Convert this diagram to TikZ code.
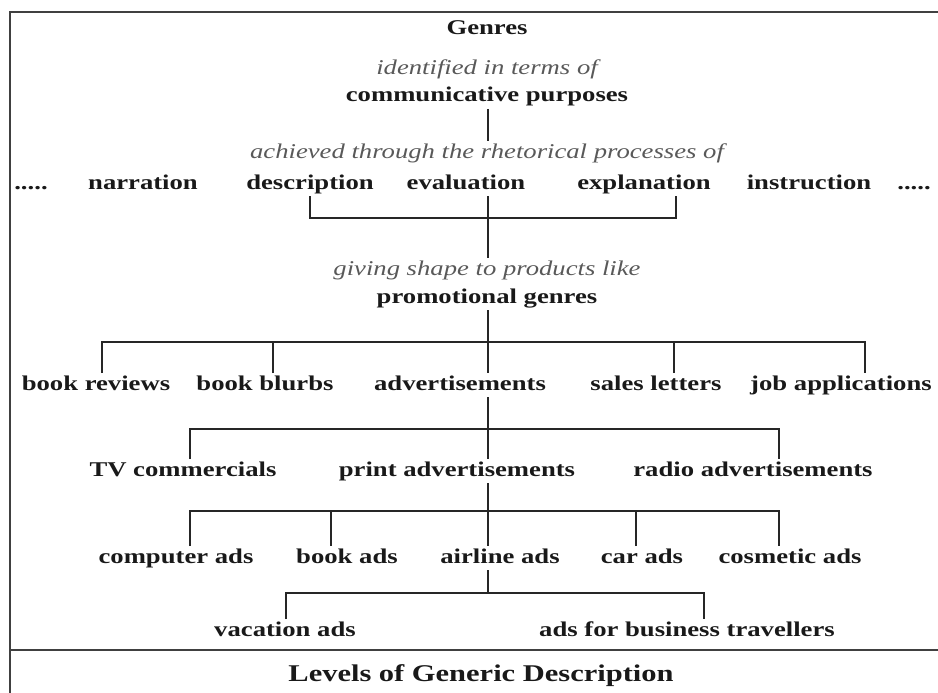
\documentclass[tikz,border=0pt]{standalone}
\usepackage{fontspec}
\setmainfont[FakeStretch=1.27]{Liberation Serif}

\tikzset{
  lvl/.style={font=\bfseries\fontsize{21}{24}\selectfont, text=black!90,
    inner sep=0pt, outer ysep=3pt, text height=14pt, text depth=4pt},
  via/.style={lvl, font=\itshape\fontsize{21}{24}\selectfont, text=black!65},
  link/.style={line width=1.8pt, draw=black!85},
  frame/.style={line width=2.6pt, draw=black!75},
}

\begin{document}
\begin{tikzpicture}[x=1pt,y=1pt]
  \useasboundingbox (0,0) rectangle (938,-693);
  \coordinate (axis) at (488,0);

  % Frame and caption strip
  \draw[frame] (10,-693) -- (10,-12) -- (938,-12);
  \draw[frame] (10,-650) -- (938,-650);
  \node[lvl, font=\bfseries\fontsize{24}{28}\selectfont] (levels) at (481,-676) {Levels of Generic Description};

  % Top of the hierarchy
  \node[lvl] (genres) at (487,-30) {Genres};
  \node[via] (ident) at (487,-70) {identified in terms of};
  \node[lvl] (comm) at (487,-97) {communicative purposes};
  \node[via] (achv) at (487,-153) {achieved through the rhetorical processes of};

  % Rhetorical processes
  \node[lvl] (dotsl) at (31,-184) {.....};
  \node[lvl] (narr) at (143,-184) {narration};
  \node[lvl] (desc) at (310,-184) {description};
  \node[lvl] (eval) at (466,-184) {evaluation};
  \node[lvl] (expl) at (644,-184) {explanation};
  \node[lvl] (instr) at (809,-184) {instruction};
  \node[lvl] (dotsr) at (914,-184) {.....};

  \node[via] (giving) at (487,-270) {giving shape to products like};
  \node[lvl] (promo) at (487,-298) {promotional genres};

  % Promotional genres
  \node[lvl] (brev) at (96,-385) {book reviews};
  \node[lvl] (blurb) at (265,-385) {book blurbs};
  \node[lvl] (adv) at (460,-385) {advertisements};
  \node[lvl] (sales) at (656,-385) {sales letters};
  \node[lvl] (jobs) at (841,-385) {job applications};

  % Advertisements
  \node[lvl] (tv) at (183,-471) {TV commercials};
  \node[lvl] (print) at (457,-471) {print advertisements};
  \node[lvl] (radio) at (753,-471) {radio advertisements};

  % Print advertisements
  \node[lvl] (comp) at (176,-558) {computer ads};
  \node[lvl] (bookad) at (347,-558) {book ads};
  \node[lvl] (air) at (500,-558) {airline ads};
  \node[lvl] (car) at (642,-558) {car ads};
  \node[lvl] (cosm) at (790,-558) {cosmetic ads};

  % Airline ads
  \node[lvl] (vac) at (285,-631) {vacation ads};
  \node[lvl] (biz) at (687,-631) {ads for business travellers};

  % Connectors
  \draw[link] (comm.south -| axis) -- (achv.north -| axis);
  \draw[link] (desc.south) -- ++(0,-22) -| ([xshift=32pt]expl.south);
  \draw[link] (eval.south -| axis) -- (giving.north -| axis);

  \draw[link] (promo.south -| axis) -- ++(0,-32) coordinate (bar1);
  \draw[link] ([xshift=6pt]brev.north) |- (bar1) -| ([xshift=24pt]jobs.north);
  \draw[link] ([xshift=8pt]blurb.north) -- ([xshift=8pt]blurb.north |- bar1);
  \draw[link] (bar1) -- (adv.north -| axis);
  \draw[link] ([xshift=18pt]sales.north) -- ([xshift=18pt]sales.north |- bar1);

  \draw[link] (adv.south -| axis) -- ++(0,-32) coordinate (bar2);
  \draw[link] ([xshift=7pt]tv.north) |- (bar2) -| ([xshift=26pt]radio.north);
  \draw[link] (bar2) -- (print.north -| axis);

  \draw[link] (print.south -| axis) -- ++(0,-28) coordinate (bar3);
  \draw[link] ([xshift=14pt]comp.north) |- (bar3) -| ([xshift=-11pt]cosm.north);
  \draw[link] ([xshift=-16pt]bookad.north) -- ([xshift=-16pt]bookad.north |- bar3);
  \draw[link] (bar3) -- (air.north -| axis);
  \draw[link] ([xshift=-6pt]car.north) -- ([xshift=-6pt]car.north |- bar3);

  \draw[link] (air.south -| axis) -- ++(0,-23) coordinate (bar4);
  \draw[link] ([xshift=1pt]vac.north) |- (bar4) -| ([xshift=17pt]biz.north);
\end{tikzpicture}
\end{document}
